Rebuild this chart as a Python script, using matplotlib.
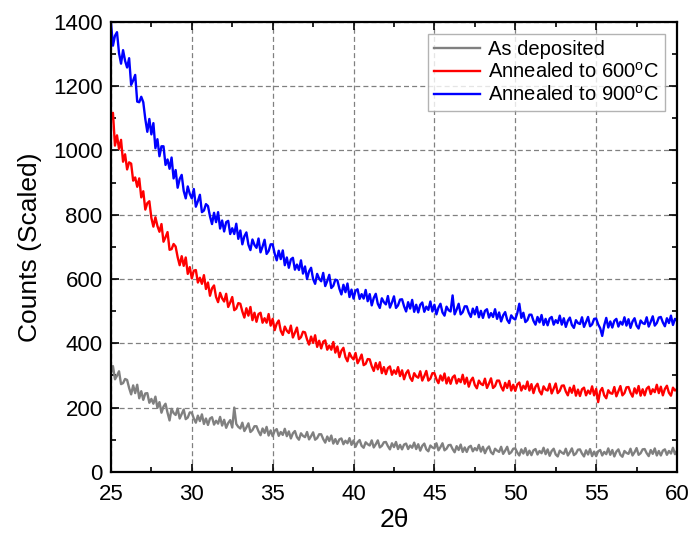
import numpy as np
import matplotlib
matplotlib.use('Agg')
import matplotlib.pyplot as plt
from matplotlib.ticker import MultipleLocator

plt.rcParams['font.family'] = ['Liberation Sans', 'DejaVu Sans']
plt.rcParams['mathtext.fontset'] = 'custom'
plt.rcParams['mathtext.rm'] = 'Liberation Sans'

# --------------------------------------------------------------
# Data (steps of 0.125 deg, 25..60, one row per degree)
# --------------------------------------------------------------
two_theta_start, two_theta_end = 25, 60

counts_900 = [
    1399, 1326, 1357, 1368, 1303, 1270, 1312, 1279,
    1258, 1287, 1204, 1218, 1235, 1152, 1150, 1167,
    1150, 1098, 1058, 1098, 1050, 1085, 1007, 1035,
    982, 1013, 1013, 955, 972, 943, 978, 913,
    939, 884, 911, 924, 874, 851, 888, 865,
    851, 880, 825, 842, 862, 808, 813, 833,
    827, 795, 771, 806, 777, 808, 757, 782,
    748, 777, 781, 740, 758, 740, 772, 725,
    751, 708, 733, 745, 707, 690, 723, 706,
    697, 726, 683, 701, 722, 678, 687, 708,
    708, 679, 658, 688, 662, 689, 643, 667,
    635, 661, 666, 629, 645, 628, 658, 617,
    639, 600, 624, 635, 600, 585, 616, 601,
    593, 619, 578, 594, 613, 572, 579, 598,
    596, 570, 552, 582, 559, 586, 544, 567,
    539, 564, 568, 538, 553, 539, 566, 531,
    553, 518, 541, 554, 523, 510, 540, 528,
    521, 547, 511, 527, 546, 510, 518, 536,
    537, 515, 499, 528, 508, 535, 498, 520,
    496, 520, 527, 498, 514, 504, 530, 499,
    520, 490, 511, 523, 496, 486, 514, 503,
    499, 549, 490, 505, 523, 490, 497, 515,
    515, 495, 482, 508, 490, 513, 481, 501,
    479, 501, 506, 480, 494, 482, 506, 476,
    496, 468, 487, 497, 473, 463, 487, 478,
    474, 494, 523, 479, 495, 466, 472, 489,
    489, 470, 458, 482, 465, 488, 457, 476,
    456, 477, 482, 458, 472, 463, 486, 458,
    478, 451, 470, 480, 457, 448, 472, 463,
    460, 481, 451, 466, 482, 453, 459, 476,
    477, 459, 447, 423, 456, 479, 449, 468,
    449, 470, 476, 452, 467, 458, 481, 455,
    475, 448, 468, 478, 455, 446, 471, 463,
    460, 481, 452, 467, 484, 455, 463, 480,
    482, 465, 453, 478, 463, 486, 457, 476,
    470,
]

counts_600 = [
    1096, 1117, 1015, 1047, 1005, 1033, 965, 988,
    941, 963, 959, 906, 916, 887, 913, 854,
    873, 816, 836, 842, 790, 763, 792, 765,
    747, 771, 716, 730, 746, 691, 693, 709,
    701, 668, 643, 671, 641, 667, 616, 637,
    602, 626, 628, 589, 604, 585, 612, 569,
    589, 548, 571, 580, 544, 528, 557, 540,
    530, 554, 513, 527, 544, 503, 508, 525,
    523, 499, 480, 509, 486, 513, 472, 495,
    467, 491, 495, 464, 478, 464, 491, 455,
    476, 441, 461, 471, 439, 426, 452, 439,
    432, 455, 418, 433, 449, 413, 419, 436,
    434, 412, 396, 421, 401, 425, 389, 408,
    384, 405, 409, 380, 393, 380, 404, 371,
    390, 357, 377, 386, 357, 344, 370, 357,
    350, 370, 338, 350, 365, 332, 336, 351,
    350, 329, 314, 339, 319, 341, 307, 326,
    304, 323, 328, 302, 316, 305, 326, 298,
    316, 288, 307, 316, 293, 283, 307, 297,
    293, 313, 284, 298, 314, 284, 290, 307,
    307, 288, 276, 300, 284, 306, 275, 294,
    274, 294, 300, 275, 289, 279, 302, 274,
    293, 265, 284, 293, 270, 260, 284, 274,
    270, 290, 261, 275, 291, 261, 267, 284,
    284, 265, 253, 277, 261, 283, 253, 271,
    252, 272, 278, 253, 268, 258, 281, 253,
    273, 245, 265, 274, 251, 241, 266, 256,
    253, 274, 244, 259, 275, 245, 252, 268,
    269, 250, 238, 262, 246, 268, 237, 256,
    236, 257, 262, 238, 253, 243, 266, 238,
    258, 217, 251, 261, 238, 229, 254, 245,
    243, 264, 235, 251, 267, 238, 245, 263,
    264, 246, 234, 260, 244, 267, 237, 257,
    238, 259, 265, 242, 257, 248, 271, 245,
    265, 238, 258, 268, 246, 237, 262, 253,
    258,
]

counts_dep = [
    308, 329, 288, 299, 313, 273, 276, 289,
    286, 261, 241, 269, 245, 271, 229, 251,
    224, 244, 245, 215, 227, 212, 234, 199,
    217, 184, 203, 212, 184, 160, 196, 183,
    177, 197, 166, 180, 194, 164, 169, 185,
    184, 166, 153, 175, 158, 179, 149, 166,
    146, 166, 170, 147, 159, 150, 171, 144,
    162, 137, 152, 161, 138, 200, 149, 140,
    135, 153, 127, 138, 151, 124, 130, 142,
    142, 126, 114, 135, 121, 140, 113, 129,
    111, 128, 133, 112, 124, 115, 134, 111,
    126, 104, 120, 127, 108, 100, 120, 112,
    108, 124, 101, 111, 123, 100, 105, 117,
    117, 102, 91, 110, 96, 113, 88, 102,
    87, 101, 104, 86, 97, 89, 105, 84,
    98, 78, 92, 99, 81, 75, 92, 86,
    82, 98, 76, 86, 98, 76, 81, 92,
    93, 80, 70, 89, 77, 93, 71, 84,
    70, 85, 88, 71, 82, 75, 91, 71,
    86, 66, 81, 88, 70, 64, 82, 76,
    73, 89, 67, 77, 89, 67, 72, 83,
    84, 71, 61, 80, 68, 85, 62, 76,
    62, 77, 81, 64, 74, 67, 84, 63,
    78, 58, 72, 79, 61, 55, 72, 66,
    62, 78, 56, 66, 78, 56, 61, 72,
    73, 60, 51, 70, 57, 74, 52, 66,
    52, 67, 71, 54, 65, 58, 75, 55,
    70, 50, 65, 72, 54, 48, 66, 60,
    56, 72, 51, 61, 73, 52, 57, 69,
    70, 57, 48, 67, 54, 71, 49, 63,
    49, 64, 68, 51, 62, 55, 73, 53,
    68, 48, 63, 70, 53, 47, 65, 59,
    56, 72, 51, 61, 74, 53, 58, 70,
    71, 58, 49, 68, 56, 73, 51, 65,
    51, 66, 70, 53, 65, 57, 75, 55,
    66,
]

labels = ['As deposited', r'Annealed to 600$^{\mathrm{o}}$C', r'Annealed to 900$^{\mathrm{o}}$C']
colors = ['#808080', '#ff0000', '#0000ff']

# --------------------------------------------------------------
# Plot
# --------------------------------------------------------------
fig = plt.figure(figsize=(6.89, 5.43), dpi=100)
ax = fig.add_axes([0.161, 0.131, 0.8216, 0.8287])

for ys, lab, c in zip([counts_dep, counts_600, counts_900], labels, colors):
    xs = np.linspace(two_theta_start, two_theta_end, len(ys))
    ax.plot(xs, ys, color=c, lw=1.7, label=lab)

ax.set_xlim(25, 60)
ax.set_ylim(0, 1400)
ax.xaxis.set_major_locator(MultipleLocator(5))
ax.xaxis.set_minor_locator(MultipleLocator(2.5))
ax.yaxis.set_major_locator(MultipleLocator(200))
ax.yaxis.set_minor_locator(MultipleLocator(100))

ax.grid(True, which='major', color='#808080', linestyle=(0, (4, 2.5)), linewidth=0.9)
ax.set_axisbelow(True)

ax.tick_params(which='both', direction='in', top=True, right=True, labelsize=16)
ax.tick_params(which='major', length=6, width=1.2)
ax.tick_params(which='minor', length=3.5, width=1.2)
ax.tick_params(axis='x', which='major', pad=9)
ax.tick_params(axis='y', which='major', pad=6)
for s in ax.spines.values():
    s.set_linewidth(1.6)

ax.set_xlabel('2θ', fontsize=19, labelpad=2)
ax.set_ylabel('Counts (Scaled)', fontsize=19, labelpad=8)

leg = ax.legend(loc='upper right', fontsize=14.5, frameon=True, fancybox=False,
                edgecolor='#a0a0a0', handlelength=2.3, borderpad=0.3,
                labelspacing=0.15, handletextpad=0.4, borderaxespad=0.6)
leg.get_frame().set_linewidth(1.0)

plt.savefig('out.png', dpi=100)
plt.close()
